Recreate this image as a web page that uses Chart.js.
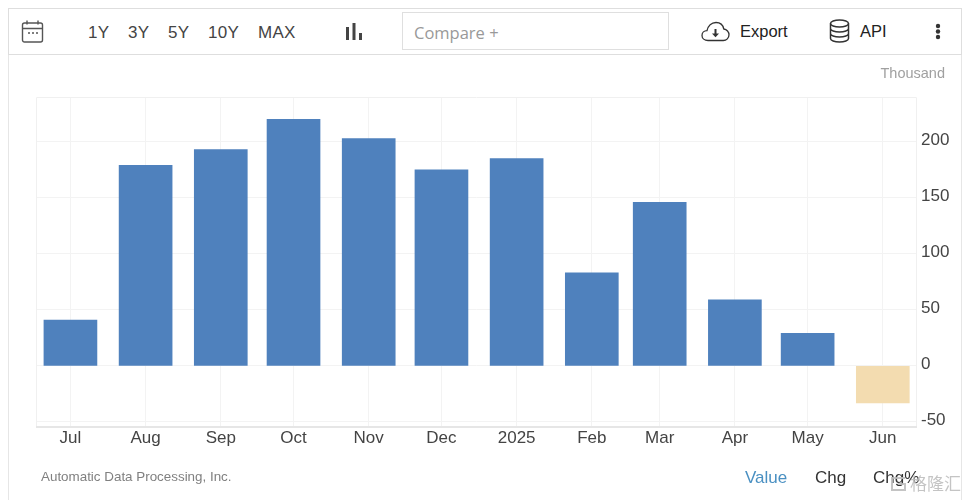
<!DOCTYPE html>
<html>
<head>
<meta charset="utf-8">
<title>ADP Employment Change</title>
<script src="https://cdn.jsdelivr.net/npm/chart.js@4"></script>
<style>
    html, body { margin: 0; padding: 0; background: #fff; }
    body { width: 964px; height: 500px; position: relative; overflow: hidden; font-family: "Liberation Sans", Arial, sans-serif; }
    #frame { position: absolute; left: 8px; top: 8px; width: 952px; height: 500px; border: 1px solid #e6e6e6; box-sizing: content-box; }
    #toolbar { position: absolute; left: 8px; top: 8px; width: 952px; height: 45px; border: 1px solid #dedede; background: #fff; }
    #chartBox { position: absolute; left: 0; top: 0; width: 964px; height: 500px; }
    .txt { position: absolute; white-space: nowrap; line-height: 20px; }
    .range { font-size: 17px; color: #444; letter-spacing: 0.3px; }
    .tool { font-size: 16.5px; color: #222; }
    .tab { font-size: 17px; color: #333; }
    svg { position: absolute; }
    #compare { position: absolute; left: 402px; top: 12px; width: 265px; height: 36px; border: 1px solid #dfdfdf; }
</style>
</head>
<body>
<div id="frame"></div>
<div id="toolbar"></div>
<div id="compare"></div>

<!-- calendar icon -->
<svg style="left:21px;top:19px" width="23" height="25" viewBox="0 0 23 25" fill="none" stroke="#555" stroke-width="1.4">
    <rect x="1.5" y="4" width="20" height="19" rx="2"/>
    <path d="M1.5 9.5h20M6 1.5v4M17 1.5v4"/>
    <path d="M7 14h2M11 14h2M15 14h2" stroke-width="1.6"/>
</svg>
<div class="txt range" style="left:88px;top:23px">1Y</div>
<div class="txt range" style="left:128px;top:23px">3Y</div>
<div class="txt range" style="left:168px;top:23px">5Y</div>
<div class="txt range" style="left:208px;top:23px">10Y</div>
<div class="txt range" style="left:258px;top:23px">MAX</div>
<!-- bar type icon -->
<svg style="left:345px;top:22px" width="18" height="19" fill="#444">
    <rect x="1" y="5" width="3" height="13"/><rect x="7.5" y="1" width="3" height="17"/><rect x="14" y="11" width="3" height="7"/>
</svg>
<div class="txt" style="left:414px;top:23px;font:16.5px/20px 'Open Sans',sans-serif;color:#999">Compare +</div>
<!-- cloud export icon -->
<svg style="left:701px;top:21px" width="29" height="21" viewBox="0 0 29 21" fill="none" stroke="#333" stroke-width="1.3">
    <path d="M7 19.5C3.5 19.5 1 17.3 1 14.5s2.2-4.8 5-4.8C7 5 10.5 1.5 15 1.5c4 0 7 2.6 7.8 6.5 3 .3 5.2 3 5.2 5.8 0 3.2-2.5 5.7-5.7 5.7z"/>
    <path d="M14.5 8v6" stroke-width="2"/><path d="M11 12.5h7l-3.5 3.8z" fill="#333" stroke="none"/>
</svg>
<div class="txt tool" style="left:740px;top:21px">Export</div>
<!-- database icon -->
<svg style="left:829px;top:19px" width="21" height="24" viewBox="0 0 21 24" fill="none" stroke="#333" stroke-width="1.5">
    <ellipse cx="10.5" cy="4.5" rx="9" ry="3.5"/>
    <path d="M1.5 4.5v15c0 2 4 3.5 9 3.5s9-1.500 9-3.500v-15M1.500 9.500c0 2 4 3.500 9 3.500s9-1.500 9-3.500M1.500 14.500c0 2 4 3.500 9 3.500s9-1.500 9-3.500"/>
</svg>
<div class="txt tool" style="left:860px;top:21px">API</div>
<!-- overflow menu -->
<svg style="left:935px;top:23px" width="6" height="17" fill="#333">
    <circle cx="3" cy="3" r="2.200"/><circle cx="3" cy="8.500" r="2.200"/><circle cx="3" cy="14" r="2.200"/>
</svg>

<div id="chartBox"><canvas id="adpChart"></canvas></div>

<div class="txt" style="right:19px;top:63px;font-size:14.5px;color:#a0a0a0">Thousand</div>
<div class="txt" style="left:41px;top:467px;font-size:13.4px;color:#808080">Automatic Data Processing, Inc.</div>
<div class="txt tab" style="left:745px;top:468px;color:#4a90c2">Value</div>
<div class="txt tab" style="left:815px;top:468px">Chg</div>
<div class="txt tab" style="left:873px;top:468px">Chg%</div>
<!-- watermark over the tabs -->
<div class="txt" style="left:910px;top:473px;font:17px/20px 'Noto Sans CJK SC',sans-serif;color:rgba(190,190,190,.9)">格隆汇</div>
<svg style="left:889px;top:475px" width="20" height="18" fill="none" stroke="rgba(190,190,190,.9)" stroke-width="2">
    <path d="M16 3H3v12h13V9H9"/>
</svg>

<script>
const categories = ['Jul', 'Aug', 'Sep', 'Oct', 'Nov', 'Dec', '2025', 'Feb', 'Mar', 'Apr', 'May', 'Jun'];
// days since 1 Jul 2024, months are not evenly spaced on this axis
const dayOffsets = [0, 31, 62, 92, 123, 153, 184, 215, 243, 274, 304, 335];
const employmentChange = [41, 179, 193, 220, 203, 175, 185, 83, 146, 59, 29, -33];
const yTicks = [-50, 0, 50, 100, 150, 200];

const BLUE = '#4f81bd';
const SAND = '#f3dcb0';

// light box around the plot area
const plotBorder = {
    id: 'plotBorder',
    beforeDatasetsDraw(chart) {
        const { ctx, chartArea: a } = chart;
        ctx.save();
        ctx.strokeStyle = '#f0f0f0';
        ctx.lineWidth = 1;
        ctx.beginPath();
        ctx.moveTo(a.left + 0.5, a.bottom);
        ctx.lineTo(a.left + 0.5, a.top + 0.5);
        ctx.lineTo(a.right - 0.5, a.top + 0.5);
        ctx.lineTo(a.right - 0.5, a.bottom);
        ctx.stroke();
        ctx.strokeStyle = '#e6e6e6';
        ctx.lineWidth = 2;
        ctx.beginPath();
        ctx.moveTo(a.left, a.bottom);
        ctx.lineTo(a.right, a.bottom);
        ctx.stroke();
        ctx.restore();
    }
};

new Chart(document.getElementById('adpChart'), {
    type: 'bar',
    plugins: [plotBorder],
    data: {
        datasets: [{
            data: dayOffsets.map((d, i) => ({ x: d, y: employmentChange[i] })),
            backgroundColor: c => (c.raw && c.raw.y < 0 ? SAND : BLUE),
            barThickness: 53,
            borderWidth: 0
        }]
    },
    options: {
        responsive: true,
        maintainAspectRatio: false,
        animation: false,
        layout: { padding: { left: 36, top: 97, right: 0, bottom: 0 } },
        plugins: {
            legend: { display: false },
            tooltip: { enabled: false }
        },
        scales: {
            x: {
                type: 'linear',
                offset: false,
                min: -14.2,
                max: 349.1,
                afterBuildTicks: scale => { scale.ticks = dayOffsets.map(v => ({ value: v })); },
                afterFit: scale => { scale.height = 73; },
                grid: { color: '#f3f3f3', drawTicks: false, offset: false },
                border: { display: false },
                ticks: {
                    autoSkip: false,
                    maxRotation: 0,
                    padding: 1,
                    color: '#444',
                    font: { family: '"Liberation Sans", Arial, sans-serif', size: 17 },
                    callback: value => categories[dayOffsets.indexOf(value)]
                }
            },
            y: {
                position: 'right',
                min: -54.5,
                max: 240,
                afterBuildTicks: scale => { scale.ticks = yTicks.map(v => ({ value: v })); },
                afterFit: scale => { scale.width = 47; },
                grid: { color: '#f3f3f3', drawTicks: false },
                border: { display: false },
                ticks: {
                    padding: 4,
                    labelOffset: -2,
                    color: '#444',
                    font: { family: '"Liberation Sans", Arial, sans-serif', size: 17 }
                }
            }
        }
    }
});
</script>
</body>
</html>
